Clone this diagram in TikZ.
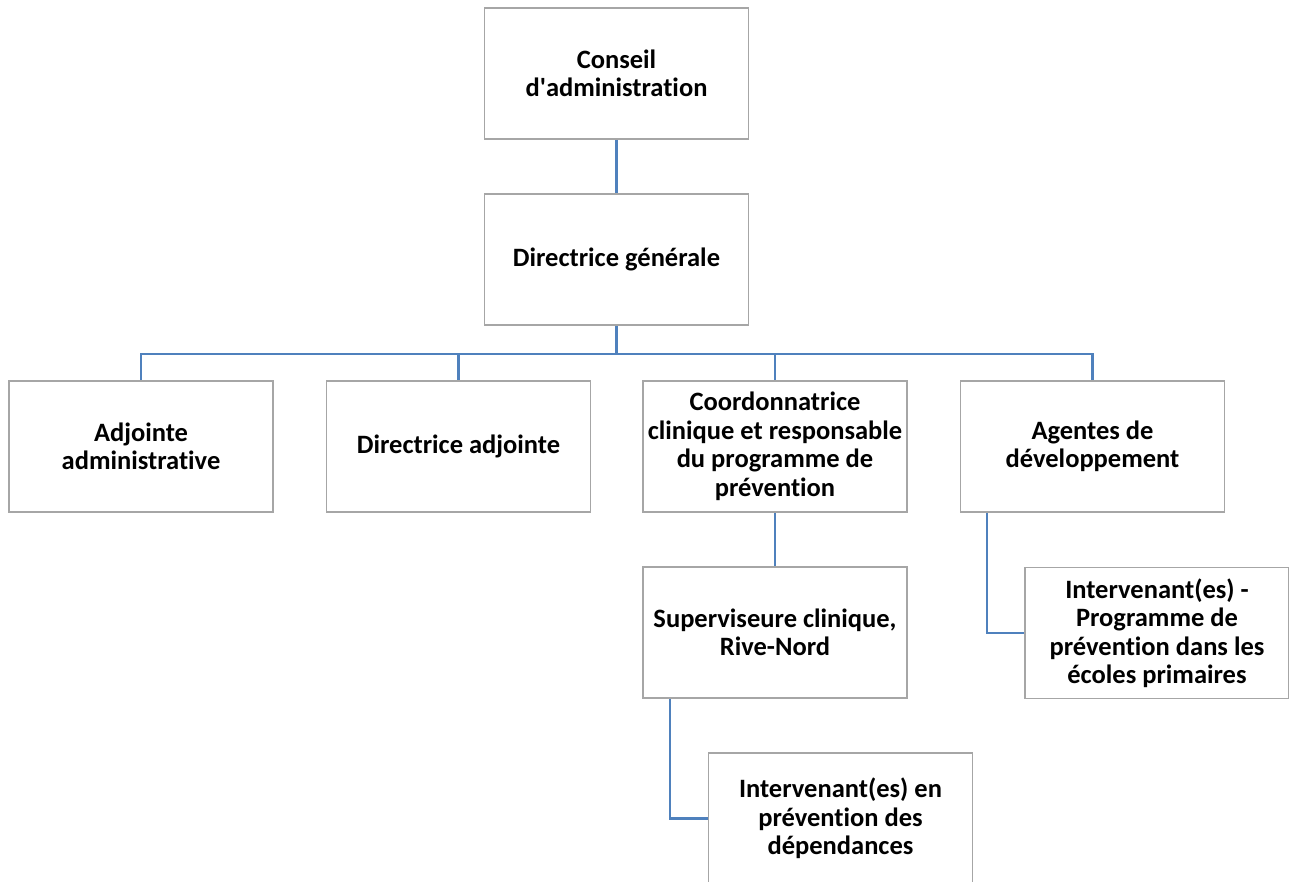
\documentclass[tikz,border=0pt]{standalone}
\usepackage{fontspec}
\setmainfont{Carlito}[Ligatures={NoCommon}]
\definecolor{boxgray}{RGB}{166,166,166}
\definecolor{linkblue}{RGB}{79,129,189}
\begin{document}
\begin{tikzpicture}[x=1pt,y=-1pt,
  orgbox/.style={draw=boxgray, line width=1.8pt, fill=white, minimum width=264pt, minimum height=131pt,
    inner sep=0pt, align=center, font=\fontsize{26.5}{28.5}\selectfont\bfseries},
  link/.style={draw=linkblue, line width=2.4pt}]
\useasboundingbox (0,0) rectangle (1289,882);
\clip (0,0) rectangle (1289,882);
\fill[white] (0,0) rectangle (1289,882);
\node[orgbox] (ca) at (616.5,73.5) {Conseil\\d\textquotesingle administration};
\node[orgbox] (dg) at (616.5,259.5) {Directrice générale};
\node[orgbox] (aa) at (141,446.5) {Adjointe\\administrative};
\node[orgbox] (da) at (458.5,446.5) {Directrice adjointe};
\node[orgbox] (cr) at (775,446.5) {Coordonnatrice\\clinique et responsable\\du programme de\\prévention};
\node[orgbox] (ag) at (1092.5,446.5) {Agentes de\\développement};
\node[orgbox] (sc) at (775,632.5) {Superviseure clinique,\\Rive-Nord};
\node[orgbox] (pp) at (1157,633) {Intervenant(es) -\\Programme de\\prévention dans les\\écoles primaires};
\node[orgbox] (ip) at (840.5,818.5) {Intervenant(es) en\\prévention des\\dépendances};
\draw[link] (ca.south) -- (dg.north);
\draw[link] (dg.south) -- ++(0,28) coordinate (bus) -| (aa.north);
\draw[link] (bus) -| (da.north);
\draw[link] (bus) -| (cr.north);
\draw[link] (bus) -| (ag.north);
\draw[link] (cr.south) -- (sc.north);
\draw[link] ([xshift=-105pt]sc.south) |- (ip.west);
\draw[link] ([xshift=-105.5pt]ag.south) |- (pp.west);
\end{tikzpicture}
\end{document}
